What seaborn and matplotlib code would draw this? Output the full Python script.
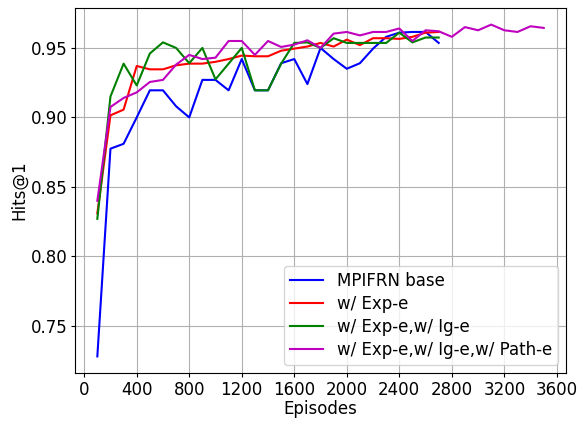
'''Hits@1 vs episodes for MPIFRN variants'''

### IMPORTS ###

import matplotlib
matplotlib.use('Agg')
import matplotlib.pyplot as plt
import seaborn as sns

### DATA ###

episodes_short = list(range(100, 2800, 100))
episodes_long = list(range(100, 3600, 100))

base = [0.728, 0.8775, 0.881, 0.900, 0.9195, 0.9195, 0.908, 0.900, 0.927, 0.927,
        0.9195, 0.942, 0.9195, 0.9195, 0.939, 0.942, 0.924, 0.950, 0.942, 0.935,
        0.939, 0.9495, 0.958, 0.961, 0.9615, 0.9615, 0.9536]
exp_e = [0.831, 0.9015, 0.9056, 0.937, 0.9346, 0.9346, 0.9375, 0.9387, 0.9387, 0.940,
         0.942, 0.9445, 0.944, 0.944, 0.948, 0.9495, 0.951, 0.9536, 0.951, 0.956,
         0.952, 0.957, 0.957, 0.9565, 0.958, 0.961, 0.9615]
exp_ig = [0.827, 0.915, 0.9387, 0.923, 0.946, 0.954, 0.950, 0.939, 0.950, 0.9274,
          0.9387, 0.950, 0.9195, 0.9195, 0.9387, 0.9536, 0.954, 0.950, 0.957, 0.9536,
          0.9536, 0.9536, 0.9536, 0.961, 0.954, 0.9575, 0.9575]
exp_ig_path = [0.840, 0.9075, 0.914, 0.918, 0.9255, 0.927, 0.938, 0.945, 0.942, 0.943,
               0.955, 0.955, 0.945, 0.955, 0.9507, 0.9524, 0.9555, 0.950, 0.9603, 0.9615,
               0.959, 0.9615, 0.9615, 0.964, 0.955, 0.9627, 0.962, 0.958, 0.965, 0.9627,
               0.9668, 0.9627, 0.9615, 0.9656, 0.9644]

labels = ['MPIFRN base', 'w/ Exp-e', 'w/ Exp-e,w/ Ig-e', 'w/ Exp-e,w/ Ig-e,w/ Path-e']
colors = ['b', 'r', 'g', 'm']

### PLOT ###

plt.rcParams['font.size'] = 12
fig, ax = plt.subplots(figsize=(5.77, 4.21), dpi=100)

series = [(episodes_short, base), (episodes_short, exp_e),
          (episodes_short, exp_ig), (episodes_long, exp_ig_path)]
for (x, y), lab, c in zip(series, labels, colors):
    sns.lineplot(x=x, y=y, color=c, label=lab, linewidth=1.5, ax=ax)

ax.set_xticks(range(0, 3700, 400))
ax.set_yticks([0.75, 0.80, 0.85, 0.90, 0.95])
ax.tick_params(length=3, pad=2.5)
ax.set_xlabel('Episodes', labelpad=1)
ax.set_ylabel('Hits@1', labelpad=2)
ax.grid(True)
ax.legend(loc='lower right', labelspacing=0.3, borderpad=0.35)

fig.subplots_adjust(left=0.13, right=0.981, top=0.981, bottom=0.114)
fig.savefig('out.png')
